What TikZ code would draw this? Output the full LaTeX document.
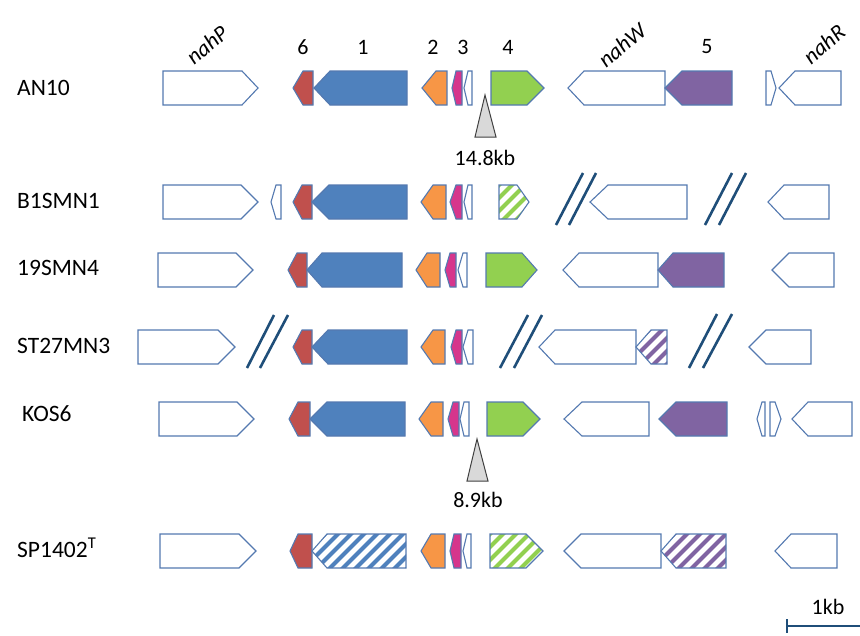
\documentclass[tikz,border=0pt]{standalone}
\usepackage{fontspec}
\setmainfont{Carlito}
\definecolor{ol}{HTML}{5479B0}
\definecolor{gred}{HTML}{C0504D}
\definecolor{gblue}{HTML}{4F81BD}
\definecolor{gorange}{HTML}{F79646}
\definecolor{gmag}{HTML}{D6368C}
\definecolor{ggreen}{HTML}{92D050}
\definecolor{gpurple}{HTML}{8064A2}
\definecolor{brk}{HTML}{1F4E79}
\definecolor{tri}{HTML}{D9D9D9}
\def\hh{17}
% right-pointing gene: x1 body-end tip y style
\newcommand\gR[5]{\draw[gene,#5] (#1,#4-\hh) -- (#2,#4-\hh) -- (#3,#4) -- (#2,#4+\hh) -- (#1,#4+\hh) -- cycle;}
% left-pointing gene: tip body-start right y style
\newcommand\gL[5]{\draw[gene,#5] (#1,#4) -- (#2,#4-\hh) -- (#3,#4-\hh) -- (#3,#4+\hh) -- (#2,#4+\hh) -- cycle;}
% hatched versions: ... y stripe-colour
\newcommand\gRh[5]{%
  \begin{scope}
    \clip (#1,#4-\hh) -- (#2,#4-\hh) -- (#3,#4) -- (#2,#4+\hh) -- (#1,#4+\hh) -- cycle;
    \foreach \s in {-50,-37,...,120} \draw[#5, line width=4pt] ({#1+(\s)},{#4+\hh+3}) -- ++(40,-40);
  \end{scope}
  \draw[gene, fill=none] (#1,#4-\hh) -- (#2,#4-\hh) -- (#3,#4) -- (#2,#4+\hh) -- (#1,#4+\hh) -- cycle;}
\newcommand\gLh[5]{%
  \begin{scope}
    \clip (#1,#4) -- (#2,#4-\hh) -- (#3,#4-\hh) -- (#3,#4+\hh) -- (#2,#4+\hh) -- cycle;
    \foreach \s in {-50,-37,...,120} \draw[#5, line width=4pt] ({#1+(\s)},{#4+\hh+3}) -- ++(40,-40);
  \end{scope}
  \draw[gene, fill=none] (#1,#4) -- (#2,#4-\hh) -- (#3,#4-\hh) -- (#3,#4+\hh) -- (#2,#4+\hh) -- cycle;}
\begin{document}
\begin{tikzpicture}[x=1pt,y=-1pt,
  gene/.style={draw=ol, line width=1.1pt, line join=miter, fill=white},
  brkline/.style={draw=brk, line width=2.6pt},
  lab/.style={font=\fontsize{22}{25}\selectfont, inner sep=0pt, text=black},
  rowlab/.style={lab, font=\fontsize{23.5}{26}\selectfont, anchor=west},
  toplab/.style={lab, font=\fontsize{22.5}{25}\selectfont\itshape, rotate=40},
  ins/.style={draw=black!75, line width=1pt, fill=tri, line join=miter}]
\useasboundingbox (0,0) rectangle (860,635);

% ---------- top labels ----------
\node[toplab] (lP) at (207,45) {nahP};
\node[toplab] (lW) at (622,45) {nahW};
\node[toplab] (lR) at (824,44) {nahR};
\node[lab] (n6) at (303,47) {6};
\node[lab] (n1) at (363,47) {1};
\node[lab] (n2) at (433,47) {2};
\node[lab] (n3) at (463,47) {3};
\node[lab] (n4) at (508,47) {4};
\node[lab] (n5) at (707,47) {5};

% ---------- row labels ----------
\node[rowlab] (rA) at (17,88) {AN10};
\node[rowlab] (rB) at (17,201) {B1SMN1};
\node[rowlab] (rC) at (17,268) {19SMN4};
\node[rowlab] (rD) at (17,346) {ST27MN3};
\node[rowlab] (rE) at (22,414) {KOS6};
\node[rowlab] (rF) at (17,548) {SP1402\textsuperscript{T}};

% ---------- AN10 ----------
\gR{163}{242}{258}{88}{}
\gL{293}{303}{313}{88}{fill=gred}
\gL{314}{330}{407}{88}{fill=gblue}
\gL{422}{436}{447}{88}{fill=gorange}
\gL{452}{456}{462}{88}{fill=gmag}
\gL{464}{468}{472}{88}{}
\gR{491}{527}{544}{88}{fill=ggreen}
\gL{568}{584}{665}{88}{}
\gL{665}{682}{732}{88}{fill=gpurple}
\gR{766}{771}{776}{88}{}
\gL{779}{795}{841}{88}{}
\draw[ins] (485,95) -- (496,137) -- (475,137) -- cycle;
\node[lab] (kA) at (485,158) {14.8kb};

% ---------- B1SMN1 ----------
\gR{163}{241}{258}{202}{}
\gL{271}{276}{281}{202}{}
\gL{293}{302}{312}{202}{fill=gred}
\gL{312}{329}{407}{202}{fill=gblue}
\gL{421}{433}{446}{202}{fill=gorange}
\gL{450}{456}{462}{202}{fill=gmag}
\gL{464}{468}{472}{202}{}
\gRh{499}{517}{529}{202}{ggreen}
\draw[brkline] (556,225) -- (583,173);
\draw[brkline] (569,225) -- (596,173);
\gL{590}{608}{687}{202}{}
\draw[brkline] (705,225) -- (732,173);
\draw[brkline] (719,225) -- (746,173);
\gL{768}{784}{829}{202}{}

% ---------- 19SMN4 ----------
\gR{158}{236}{253}{270}{}
\gL{288}{297}{307}{270}{fill=gred}
\gL{307}{322}{402}{270}{fill=gblue}
\gL{416}{427}{440}{270}{fill=gorange}
\gL{445}{450}{456}{270}{fill=gmag}
\gL{458}{463}{467}{270}{}
\gR{486}{522}{537}{270}{fill=ggreen}
\gL{563}{579}{658}{270}{}
\gL{658}{673}{724}{270}{fill=gpurple}
\gL{772}{789}{834}{270}{}

% ---------- ST27MN3 ----------
\gR{138}{218}{235}{347}{}
\draw[brkline] (247,368) -- (274,315);
\draw[brkline] (260,368) -- (288,315);
\gL{293}{302}{312}{347}{fill=gred}
\gL{312}{328}{407}{347}{fill=gblue}
\gL{421}{433}{445}{347}{fill=gorange}
\gL{451}{456}{462}{347}{fill=gmag}
\gL{463}{468}{473}{347}{}
\draw[brkline] (500,368) -- (528,315);
\draw[brkline] (514,368) -- (542,315);
\gL{539}{555}{636}{347}{}
\gLh{636}{651}{667}{347}{gpurple}
\draw[brkline] (689,368) -- (717,314);
\draw[brkline] (703,368) -- (732,314);
\gL{749}{766}{811}{347}{}

% ---------- KOS6 ----------
\gR{159}{237}{254}{419}{}
\gL{289}{298}{310}{419}{fill=gred}
\gL{310}{327}{405}{419}{fill=gblue}
\gL{419}{431}{443}{419}{fill=gorange}
\gL{448}{453}{459}{419}{fill=gmag}
\gL{460}{464}{469}{419}{}
\gR{487}{523}{540}{419}{fill=ggreen}
\draw[ins] (477,439) -- (488,481) -- (467,481) -- cycle;
\node[lab] (kE) at (478,500) {8.9kb};
\gL{564}{582}{649}{419}{}
\gL{659}{676}{727}{419}{fill=gpurple}
\gL{757}{762}{765}{419}{}
\gR{770}{775}{781}{419}{}
\gL{792}{808}{852}{419}{}

% ---------- SP1402T ----------
\gR{160}{239}{256}{551}{}
\gL{290}{298}{312}{551}{fill=gred}
\gLh{312}{327}{406}{551}{gblue}
\gL{421}{431}{445}{551}{fill=gorange}
\gL{450}{454}{461}{551}{fill=gmag}
\gL{463}{467}{471}{551}{}
\gRh{490}{526}{543}{551}{ggreen}
\gL{564}{581}{661}{551}{}
\gLh{661}{676}{726}{551}{gpurple}
\gL{775}{791}{837}{551}{}

% ---------- scale bar ----------
\coordinate (sb1) at (787,626);
\coordinate (sb2) at (860,626);
\draw[brk, line width=2.4pt] (sb1) -- (sb2);
\draw[brk, line width=2.4pt] (787,619) -- (787,633);
\node[lab] (kb) at (828,607) {1kb};
\end{tikzpicture}
\end{document}
